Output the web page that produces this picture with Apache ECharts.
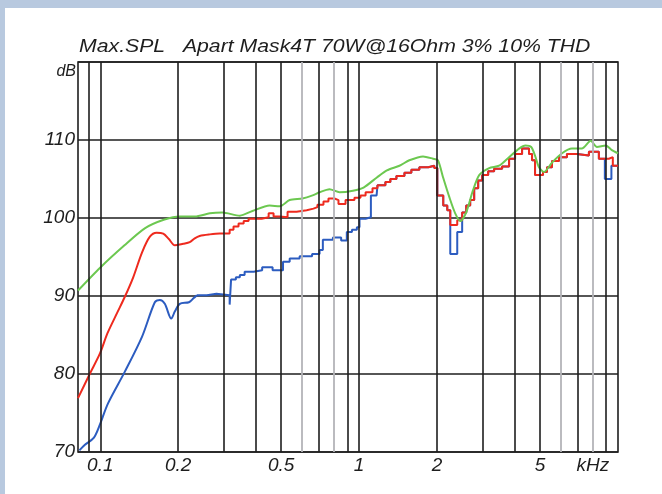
<!DOCTYPE html>
<html>
<head>
<meta charset="utf-8">
<script src="https://cdn.jsdelivr.net/npm/echarts@6/dist/echarts.min.js"></script>
<style>
  html, body { margin: 0; padding: 0; background: #b8c9df; width: 662px; height: 494px; overflow: hidden; }
  #panel { position: absolute; left: 5px; top: 8px; width: 657px; height: 486px; background: #ffffff; }
  #chart { position: absolute; left: 0; top: 0; width: 662px; height: 494px; }
</style>
</head>
<body>
<div id="panel"></div>
<div id="chart"></div>
<script>
// Max. SPL measurement: 3 % / 10 % THD limits, frequency in Hz, level in dB
const titleText = 'Max.SPL   Apart Mask4T 70W@16Ohm 3% 10% THD';
const yTicks = [70, 80, 90, 100, 110];
const freqLabelHz = [100, 200, 500, 1000, 2000, 5000];
const freqLabels = ['0.1', '0.2', '0.5', '1', '2', '5'];
const unitLabelHz = 8000;
const gridDarkHz = [90, 100, 200, 300, 400, 500, 700, 900, 1000, 2000, 3000, 4000, 5000, 7000, 9000];
const gridLightHz = [600, 800, 6000, 8000];

// green: upper limit curve
const greenHz = [82, 99.6, 124, 149, 177, 203, 232, 265, 296, 346, 387, 451, 493, 539, 604, 661, 703, 768, 840, 946,
  1040, 1171, 1280, 1431, 1563, 1765, 1930, 2015, 2110, 2229, 2350, 2460, 2590, 2750, 2909, 3179, 3473, 3795, 4148,
  4390, 4620, 4780, 4953, 5178, 5560, 6080, 6640, 7250, 7850, 8290, 8970, 9470, 10000];
const greenDb = [90.7, 93.6, 96.5, 98.7, 99.8, 100.2, 100.2, 100.6, 100.7, 100.3, 100.9, 101.6, 101.5, 102.3, 102.5, 102.9, 103.3, 103.7, 103.3, 103.5,
  103.9, 105.2, 106.1, 106.7, 107.4, 107.9, 107.6, 107.4, 105.2, 102.7, 100.6, 99.6, 100.7, 103.5, 105.5, 106.4, 106.7, 107.8, 108.9,
  109.3, 109.1, 108.0, 106.5, 105.9, 107.1, 108.3, 108.9, 108.9, 109.9, 109.1, 109.3, 108.7, 108.3];

// red: low-frequency curve, then stepped band levels
const redCurveHz = [82, 91, 99.6, 106.5, 116, 124.4, 134, 145, 155.4, 165, 175, 184, 194, 209, 221.6, 231.7, 242, 265, 289, 302];
const redCurveDb = [76.9, 80.0, 82.6, 85.2, 87.8, 89.9, 92.4, 95.6, 97.6, 98.1, 98.0, 97.3, 96.5, 96.7, 96.9, 97.4, 97.7, 97.9, 98.0, 98.0];
const redStepHz = [302, 316, 327, 342, 358, 374, 420, 447, 467, 493, 529, 573, 627, 666, 690, 728, 761, 803, 832, 886,
  959, 1012, 1059, 1126, 1177, 1263, 1320, 1393, 1496, 1591, 1708, 1850, 1951, 2004, 2113, 2190, 2249, 2393, 2500, 2592,
  2685, 2782, 2883, 2987, 3151, 3322, 3567, 3795, 4002, 4260, 4532, 4655, 4781, 5133, 5318, 5560, 5915, 6350, 6940, 7719,
  8435, 9218, 9550, 10000];
const redStepDb = [98.0, 98.5, 98.9, 99.3, 99.6, 99.9, 100.1, 100.6, 100.2, 100.1, 100.8, 101.0, 101.2, 101.4, 101.7, 102.1, 102.5, 102.3, 101.8, 102.3,
  102.6, 102.9, 103.3, 103.8, 104.2, 104.6, 105.0, 105.4, 105.8, 106.2, 106.5, 106.7, 106.4, 102.9, 101.6, 101.0, 99.1, 99.7, 100.7, 101.6,
  102.3, 103.8, 104.8, 105.5, 106.0, 106.3, 106.6, 107.6, 108.2, 108.9, 108.2, 107.4, 105.5, 105.9, 106.5, 107.3, 107.8, 108.2, 108.0, 108.5,
  107.6, 107.8, 106.7, 106.7];

// blue: low-frequency curve, then stepped band levels
const blueCurveHz = [83, 87, 94.3, 99.6, 107, 124.4, 145, 162.4, 169.8, 177.5, 188, 194, 202.8, 220, 229, 236];
const blueCurveDb = [70.2, 70.9, 71.8, 73.5, 76.2, 80.3, 84.8, 89.2, 89.5, 89.0, 87.1, 88.0, 89.0, 89.2, 89.7, 90.1];
const blueStepHz = [236, 258, 281, 316, 320, 334, 346, 361, 391, 422, 463, 508, 539, 589, 658, 703, 724, 792, 852, 896,
  938, 980, 1003, 1059, 1110, 1168, 1177, 1263, 1320, 1393, 1496, 1591, 1708, 1850, 1951, 2004, 2113, 2190, 2249, 2393,
  2500, 2592, 2685, 2782, 2883, 2987, 3151, 3322, 3567, 3795, 4002, 4260, 4532, 4655, 4781, 5133, 5318, 5560, 5915, 6350,
  6940, 7719, 8435, 8895, 9430, 10000];
const blueStepDb = [90.1, 90.3, 90.1, 88.9, 92.1, 92.4, 92.7, 93.1, 93.3, 93.7, 93.3, 94.4, 94.8, 95.1, 95.4, 95.9, 97.2, 97.5, 97.1, 98.2,
  98.5, 98.8, 99.9, 100.1, 102.9, 103.1, 104.2, 104.6, 105.0, 105.4, 105.8, 106.2, 106.5, 106.7, 106.4, 102.9, 101.6, 101.0, 95.4, 98.2,
  100.7, 101.6, 102.3, 103.8, 104.8, 105.5, 106.0, 106.3, 106.6, 107.6, 108.2, 108.9, 108.2, 107.4, 105.5, 105.9, 106.5, 107.3, 107.8, 108.2,
  108.0, 108.5, 107.6, 105.0, 106.7, 106.7];

const pairs = (xs, ys) => xs.map((x, i) => [x, ys[i]]);

const FONT = 'Liberation Sans';
const INK = '#1e1e1e';
const GREEN = '#6cc850';
const RED = '#ee2a1e';
const BLUE = '#2c5cc0';

const labelStyle = {
  fontFamily: FONT, fontStyle: 'italic', fontSize: 19, color: INK
};

const gridLines = [];
gridDarkHz.forEach(hz => {
  const k = freqLabelHz.indexOf(hz);
  gridLines.push({
    xAxis: hz,
    lineStyle: { color: INK, width: 1.6, type: 'solid' },
    label: k >= 0 ? Object.assign({ show: true, position: 'start', distance: 4, formatter: freqLabels[k] }, labelStyle)
                  : { show: false }
  });
});
gridLightHz.forEach(hz => {
  gridLines.push({
    xAxis: hz,
    lineStyle: { color: '#b4b4b8', width: 1.8, type: 'solid' },
    label: hz === unitLabelHz
      ? Object.assign({ show: true, position: 'start', distance: 4, formatter: 'kHz' }, labelStyle)
      : { show: false }
  });
});

const chart = echarts.init(document.getElementById('chart'), null, { renderer: 'canvas' });

chart.setOption({
  animation: false,
  backgroundColor: 'transparent',
  grid: {
    left: 78, top: 62, width: 540, height: 390,
    show: true, borderColor: INK, borderWidth: 1.6, backgroundColor: 'transparent'
  },
  xAxis: {
    type: 'log', logBase: 10, min: 82, max: 10000,
    axisLine: { show: false }, axisTick: { show: false },
    axisLabel: { show: false }, splitLine: { show: false }
  },
  yAxis: {
    type: 'value', min: 70, max: 120, interval: 10,
    axisLine: { show: false }, axisTick: { show: false },
    axisLabel: Object.assign({
      margin: 3,
      formatter: v => (yTicks.indexOf(v) >= 0 ? String(v) : '')
    }, labelStyle),
    splitLine: { show: true, lineStyle: { color: INK, width: 1.6, type: 'solid' } }
  },
  graphic: [
    {
      type: 'text', left: 79, top: 38, z: 10,
      scaleX: 1.18,
      style: { text: titleText, font: 'italic 18px "' + FONT + '"', fill: INK }
    },
    {
      type: 'text', right: 662 - 76, top: 64, z: 10,
      style: { text: 'dB', font: 'italic 16px "' + FONT + '"', fill: INK }
    }
  ],
  series: [
    {
      type: 'line', data: [], silent: true, z: 1,
      markLine: { silent: true, symbol: ['none', 'none'], animation: false, data: gridLines }
    },
    {
      type: 'line', data: pairs(blueCurveHz, blueCurveDb), smooth: 0.3, showSymbol: false, z: 2,
      lineStyle: { color: BLUE, width: 2 }
    },
    {
      type: 'line', data: pairs(blueStepHz, blueStepDb), step: 'end', showSymbol: false, z: 2,
      lineStyle: { color: BLUE, width: 2 }
    },
    {
      type: 'line', data: pairs(redCurveHz, redCurveDb), smooth: 0.3, showSymbol: false, z: 3,
      lineStyle: { color: RED, width: 2 }
    },
    {
      type: 'line', data: pairs(redStepHz, redStepDb), step: 'end', showSymbol: false, z: 3,
      lineStyle: { color: RED, width: 2 }
    },
    {
      type: 'line', data: pairs(greenHz, greenDb), smooth: 0.25, showSymbol: false, z: 4,
      lineStyle: { color: GREEN, width: 2 }
    }
  ]
});
</script>
</body>
</html>
